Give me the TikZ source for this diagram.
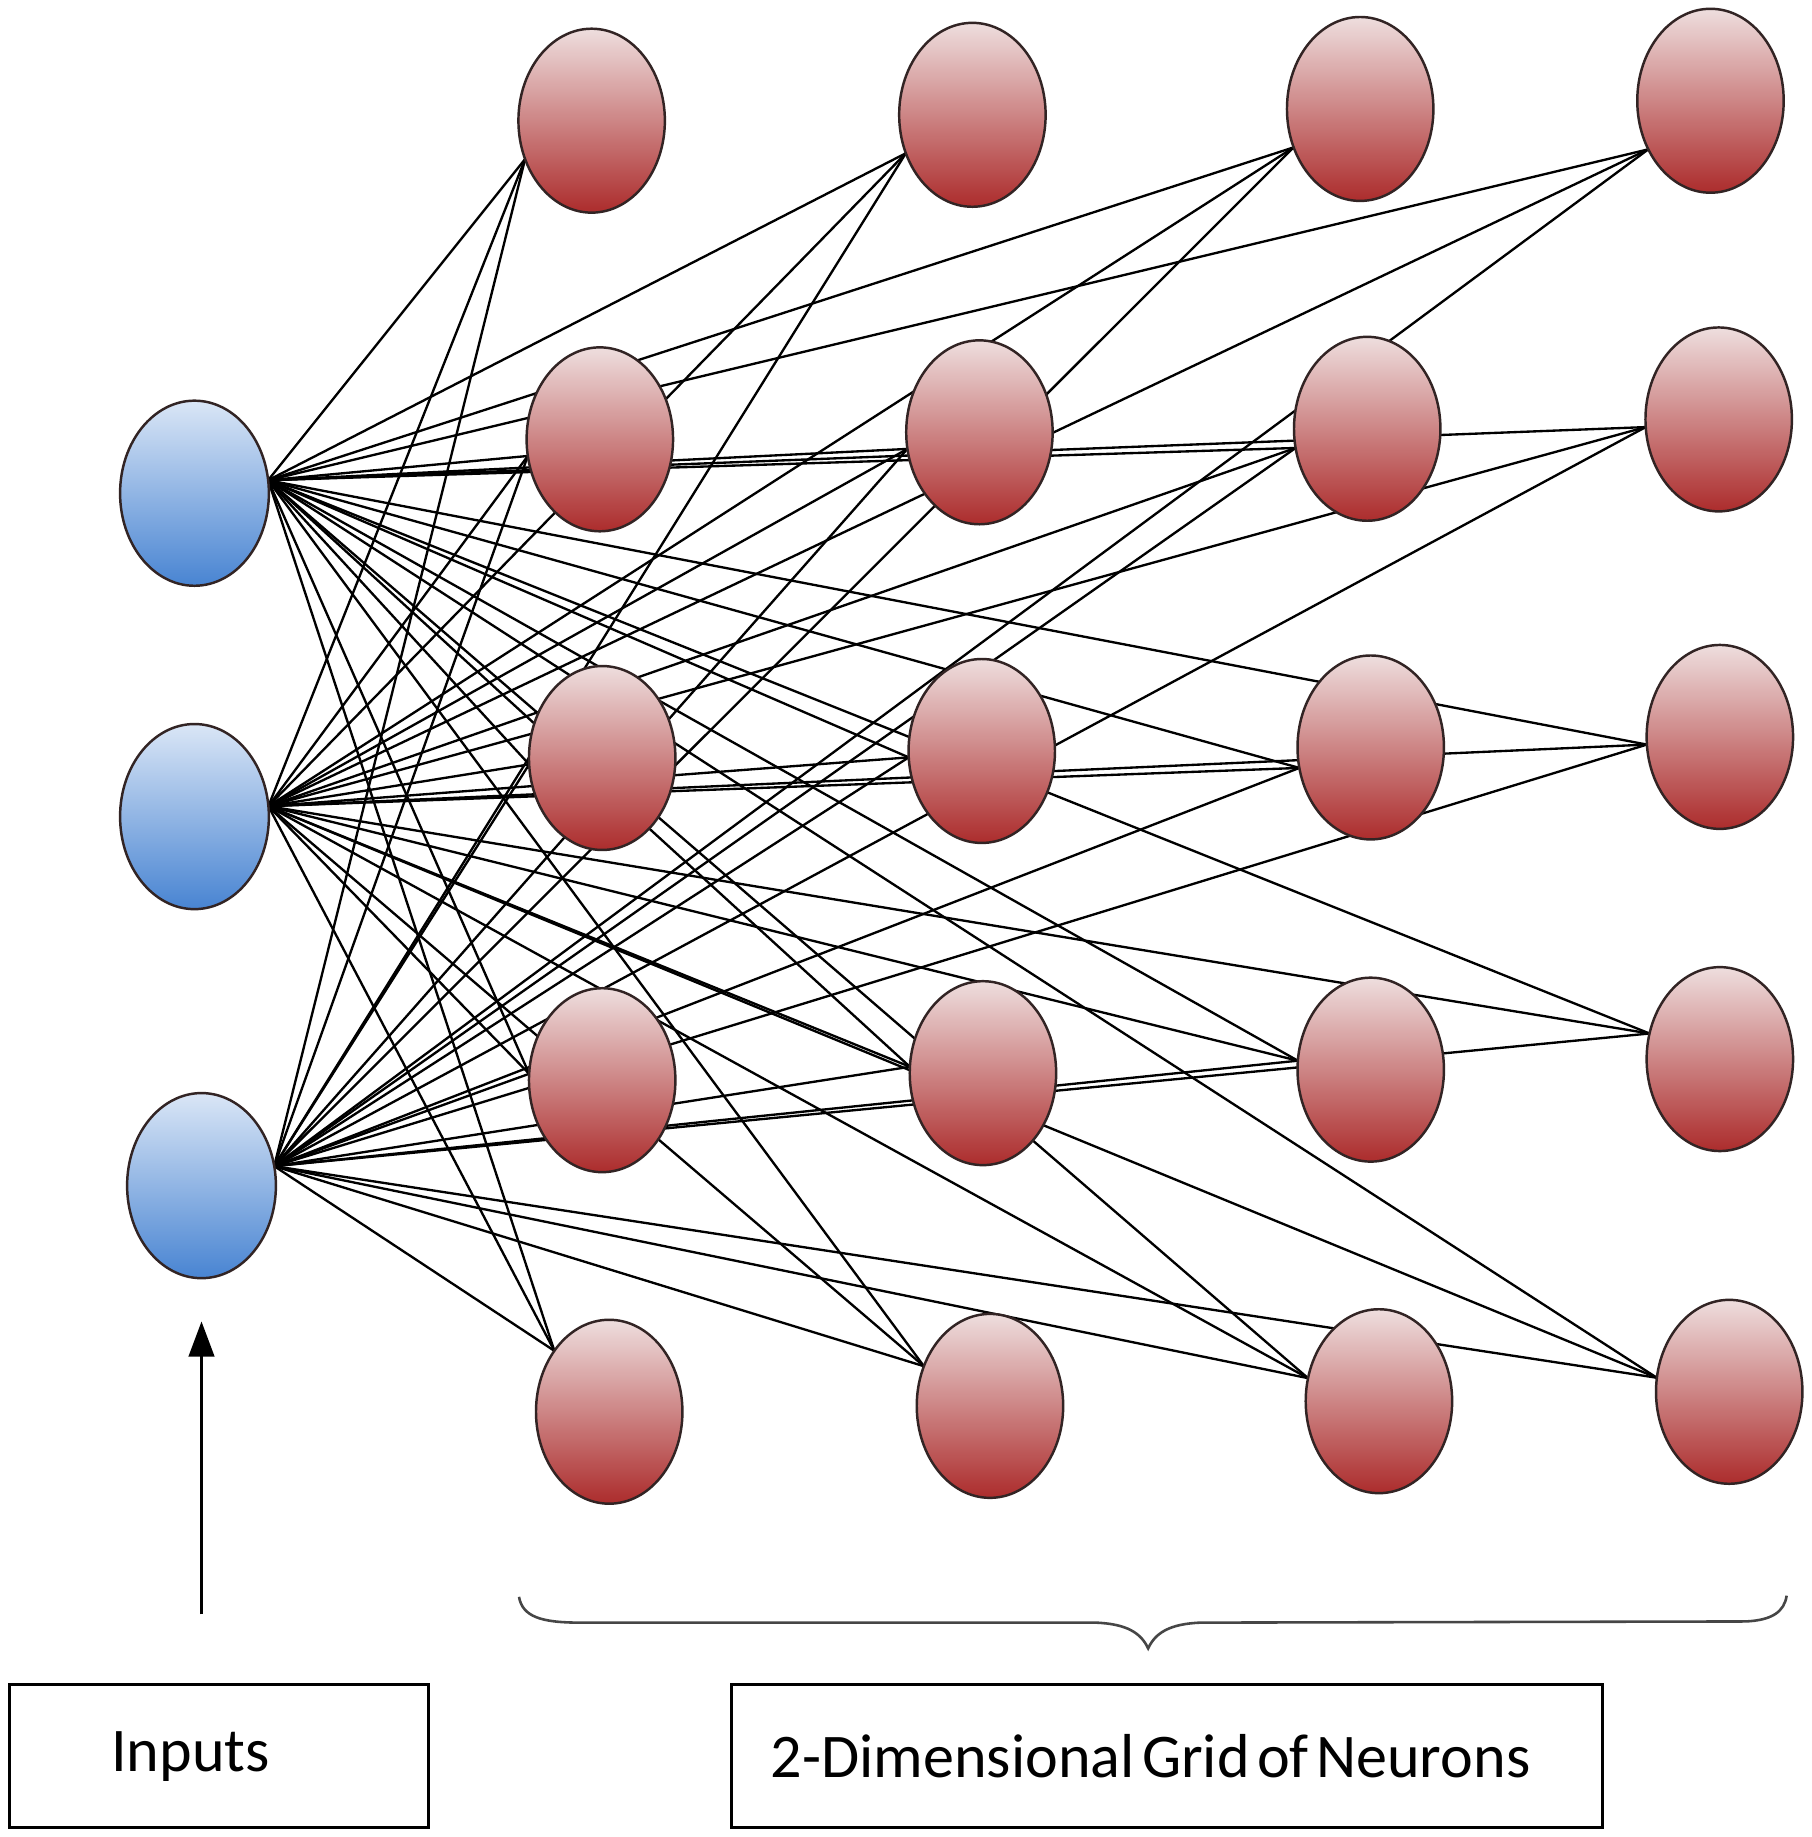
\documentclass[tikz,border=0pt]{standalone}
\usepackage{fontspec}
\setmainfont{Carlito}
\usetikzlibrary{arrows.meta,shapes.geometric}
\pgfdeclarelayer{bg}
\pgfdeclarelayer{wires}
\pgfsetlayers{bg,wires,main}
\definecolor{nTop}{RGB}{238,222,222}
\definecolor{nBot}{RGB}{172,44,44}
\definecolor{iTop}{RGB}{218,230,246}
\definecolor{iBot}{RGB}{72,132,210}
\definecolor{rim}{RGB}{50,36,36}
\definecolor{braceCol}{RGB}{70,70,70}
\tikzset{
  neuron/.style={ellipse, draw=rim, line width=2.1pt, minimum width=125pt,
    minimum height=157pt, inner sep=0pt, outer sep=0pt, top color=nTop, bottom color=nBot},
  inputnode/.style={ellipse, draw=rim, line width=2.1pt, minimum width=127pt,
    minimum height=158pt, inner sep=0pt, outer sep=0pt, top color=iTop, bottom color=iBot},
  wire/.style={line width=2pt, black},
  labelbox/.style={draw, line width=2.5pt, minimum height=122pt, align=left,
    outer sep=0pt, anchor=north west, font=\fontsize{53}{60}\selectfont},
  bracestyle/.style={draw=braceCol, line width=2.2pt},
  upArrow/.style={line width=1.8pt, -{Triangle[width=22pt,length=30pt]}}
}
\begin{document}
\begin{tikzpicture}[x=1pt,y=-1pt]
\useasboundingbox (0,0) rectangle (1546,1568);
\begin{pgfonlayer}{bg}
  \fill[white] (0,0) rectangle (1546,1568);
\end{pgfonlayer}
% inputs
\node[inputnode] (i1) at (166,421) {};
\node[inputnode] (i2) at (166,697) {};
\node[inputnode] (i3) at (172,1012) {};
% grid of neurons
\node[neuron] (n11) at (505,103) {};
\node[neuron] (n12) at (830,98) {};
\node[neuron] (n13) at (1161,93) {};
\node[neuron] (n14) at (1460,86) {};
\node[neuron] (n21) at (512,375) {};
\node[neuron] (n22) at (836,369) {};
\node[neuron] (n23) at (1167,366) {};
\node[neuron] (n24) at (1467,358) {};
\node[neuron] (n31) at (514,647) {};
\node[neuron] (n32) at (838,641) {};
\node[neuron] (n33) at (1170,638) {};
\node[neuron] (n34) at (1468,629) {};
\node[neuron] (n41) at (514,922) {};
\node[neuron] (n42) at (839,916) {};
\node[neuron] (n43) at (1170,913) {};
\node[neuron] (n44) at (1468,904) {};
\node[neuron] (n51) at (520,1205) {};
\node[neuron] (n52) at (845,1200) {};
\node[neuron] (n53) at (1177,1196) {};
\node[neuron] (n54) at (1476,1188) {};
% connections
\begin{pgfonlayer}{wires}
\foreach \src/\sa in {i1/10, i2/8, i3/15}{
  \foreach \dst/\da in {n11/210, n12/210, n13/210, n14/218,
                        n21/193, n22/193, n23/195, n24/186,
                        n31/185, n32/185, n33/196, n34/186,
                        n41/175, n42/175, n43/173, n44/160,
                        n51/132, n52/149, n53/162, n54/169}{
    \draw[wire] (\src.\sa) -- (\dst.\da);
  }
}
\end{pgfonlayer}
% arrow
\coordinate (arrTail) at (172,1378);
\coordinate (arrHead) at (172,1128);
\draw[upArrow] (arrTail) -- (arrHead);
% brace
\draw[bracestyle] (443,1363) .. controls (446,1380) and (462,1385) .. (495,1385)
  -- (935,1385) .. controls (962,1386) and (974,1394) .. (980,1407)
  .. controls (986,1394) and (998,1386) .. (1025,1385)
  -- (1490,1384) .. controls (1512,1383) and (1523,1376) .. (1525,1362);
% label boxes
\node[labelbox, inner xsep=87pt, text width=184pt] (inputsbox) at (8,1438) {\mbox{Inputs}};
\node[labelbox, inner xsep=34pt, text width=676pt] (gridbox) at (624,1438)
  {\mbox{2-Dimensional\hspace{0.12em}Grid\hspace{0.12em}of\hspace{0.12em}Neurons}};
\end{tikzpicture}
\end{document}
